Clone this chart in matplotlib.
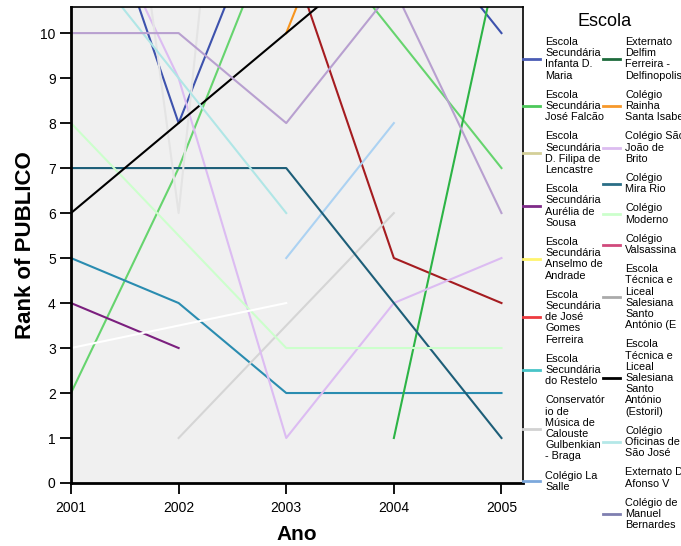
import numpy as np
import matplotlib
matplotlib.use("Agg")
import matplotlib.pyplot as plt
from matplotlib.lines import Line2D

plt.rcParams['font.family'] = ['Liberation Sans', 'DejaVu Sans']

# ranks per school, None = no value that year
years = [2001, 2002, 2003, 2004, 2005]

infanta = [15, 8, 14, 13, 10]
jose_falcao = [2, 7, 13, 10, 7]
filipa = [None, None, None, None, None]
aurelia = [4, 3, None, None, None]
anselmo = [None, None, None, None, None]
gomes_ferreira = [None, None, 12, 5, 4]
restelo = [5, 4, 2, 2, 2]
conservatorio = [None, 1, None, 6, None]
la_salle = [None, None, 5, 8, None]
delfim = [None, None, None, 1, 12]
rainha = [None, None, 10, 16, None]
sao_joao = [14, 9, 1, 4, 5]
mira_rio = [7, 7, 7, 4, 1]
moderno = [8, None, 3, 3, 3]
valsassina = [None, None, None, None, None]
salesiana_e = [24, 6, 29, None, None]
salesiana_estoril = [6, 8, 10, 12, None]
oficinas = [12, 9, 6, None, None]
afonso = [3, None, 4, None, None]
bernardes = [10, 10, 8, 11, 6]

col1 = [
    ("Escola\nSecundária\nInfanta D.\nMaria", infanta, "#3d52ad", "#4a5cb4"),
    ("Escola\nSecundária\nJosé Falcão", jose_falcao, "#66d46e", "#4cc85a"),
    ("Escola\nSecundária\nD. Filipa de\nLencastre", filipa, "#d4cf98", "#d4cf98"),
    ("Escola\nSecundária\nAurélia de\nSousa", aurelia, "#7b1f7e", "#7e2a88"),
    ("Escola\nSecundária\nAnselmo de\nAndrade", anselmo, "#fff46e", "#fff46e"),
    ("Escola\nSecundária\nde José\nGomes\nFerreira", gomes_ferreira, "#a51c20", "#ee3a3f"),
    ("Escola\nSecundária\ndo Restelo", restelo, "#2a8cb0", "#48c4c8"),
    ("Conservatór\nio de\nMúsica de\nCalouste\nGulbenkian\n- Braga", conservatorio, "#d5d5d5", "#d2d2d2"),
    ("Colégio La\nSalle", la_salle, "#acd2f2", "#7ca8dc"),
]
col2 = [
    ("Externato\nDelfim\nFerreira -\nDelfinopolis", delfim, "#2db446", "#1e6b3c"),
    ("Colégio\nRainha\nSanta Isabel", rainha, "#f7941d", "#f7982a"),
    ("Colégio São\nJoão de\nBrito", sao_joao, "#dcbcf2", "#dcbcf0"),
    ("Colégio\nMira Rio", mira_rio, "#1d5e78", "#2a6e86"),
    ("Colégio\nModerno", moderno, "#ccffcc", "#ccffcc"),
    ("Colégio\nValsassina", valsassina, "#d04a7c", "#d04a7c"),
    ("Escola\nTécnica e\nLiceal\nSalesiana\nSanto\nAntónio (E", salesiana_e, "#e4e4e4", "#aaaaaa"),
    ("Escola\nTécnica e\nLiceal\nSalesiana\nSanto\nAntónio\n(Estoril)", salesiana_estoril, "#000000", "#000000"),
    ("Colégio\nOficinas de\nSão José", oficinas, "#b0e6e6", "#b4e8e8"),
    ("Externato D.\nAfonso V", afonso, "#ffffff", "#ffffff"),
    ("Colégio de\nManuel\nBernardes", bernardes, "#b8a0d0", "#7f7fb0"),
]

fig = plt.figure(figsize=(6.81, 5.46), dpi=100)
ax = fig.add_axes([71/681, 63/546, 452/681, 476/546])
ax.set_facecolor("#f0f0f0")

for label, vals, lc, _ in col1 + col2:
    x = [y for y, v in zip(years, vals) if v is not None]
    y = [v for v in vals if v is not None]
    if len(x) > 0:
        ax.plot(x, y, color=lc, lw=1.5)

ax.set_xlim(2001, 2005.2)
ax.set_ylim(0, 10.58)
ax.set_xticks(years)
ax.set_xticklabels([str(y) for y in years])
ax.set_yticks(range(0, 11))
ax.tick_params(axis='both', length=8, width=1.3, labelsize=10, color='black')
ax.tick_params(axis='x', pad=5)
ax.tick_params(axis='y', pad=3)

for s in ['left', 'bottom']:
    ax.spines[s].set_linewidth(2)
for s in ['top', 'right']:
    ax.spines[s].set_linewidth(1.2)

ax.set_xlabel("Ano", fontsize=15, fontweight='bold', labelpad=7)
ax.set_ylabel("Rank of PUBLICO", fontsize=16, fontweight='bold', labelpad=3)

# legend in two columns
def make_leg(entries, xpos):
    handles = [Line2D([], [], color=c, lw=2) for _, _, _, c in entries]
    labels = [e[0] for e in entries]
    leg = fig.legend(handles, labels, loc='upper left', bbox_to_anchor=(xpos, 1 - 37/546),
                     frameon=False, fontsize=7.8, handlelength=1.6, handletextpad=0.45,
                     labelspacing=0.85, borderpad=0, borderaxespad=0)
    for t in leg.get_texts():
        t.set_linespacing(1.15)
    return leg

make_leg(col1, 523/681)
make_leg(col2, 603/681)
fig.text(605/681, 1 - 21/546, "Escola", fontsize=13, ha='center', va='center')

fig.savefig("out.png", dpi=100)
